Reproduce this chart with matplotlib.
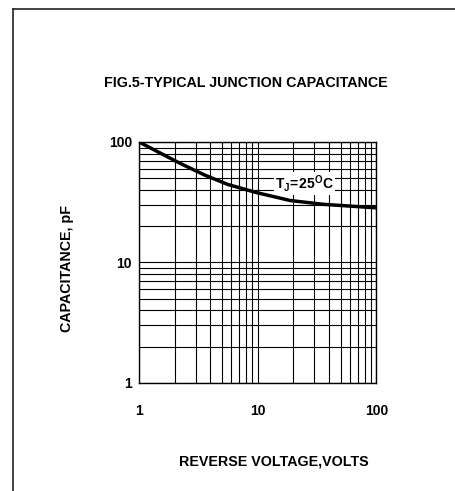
import matplotlib
matplotlib.use("Agg")
from matplotlib import pyplot as plt
from matplotlib.lines import Line2D
from matplotlib.ticker import LogLocator, NullFormatter, FixedFormatter, FixedLocator

plt.rcParams['font.family'] = ['Liberation Sans', 'DejaVu Sans']
plt.rcParams['font.weight'] = 'bold'
plt.rcParams['mathtext.fontset'] = 'custom'
plt.rcParams['mathtext.rm'] = 'Liberation Sans:bold'
plt.rcParams['mathtext.bf'] = 'Liberation Sans:bold'

# curve
voltage = [1.0, 2.23, 3.6, 5.6, 9.8, 18.7, 35.6, 100.0]
capacitance = [100.0, 66.3, 53.0, 44.4, 38.0, 32.7, 30.4, 28.4]

tick_vals = [1, 10, 100]
tick_labels = ['1', '10', '100']

title = "FIG.5-TYPICAL JUNCTION CAPACITANCE"
xlab = "REVERSE VOLTAGE,VOLTS"
ylab = "CAPACITANCE, pF"

fig = plt.figure(figsize=(4.56, 4.91), dpi=100)
ax = fig.add_axes([0.3048, 0.22, 0.5208, 0.4908])

ax.set_xscale('log')
ax.set_yscale('log')
ax.set_xlim(1, 100)
ax.set_ylim(1, 100)

ax.plot(voltage, capacitance, color='black', lw=2.5, solid_capstyle='butt', zorder=4)

# full log grid
ax.xaxis.set_major_locator(FixedLocator(tick_vals))
ax.yaxis.set_major_locator(FixedLocator(tick_vals))
ax.xaxis.set_major_formatter(FixedFormatter(tick_labels))
ax.yaxis.set_major_formatter(FixedFormatter(tick_labels))
ax.xaxis.set_minor_locator(LogLocator(base=10, subs=range(2, 10)))
ax.yaxis.set_minor_locator(LogLocator(base=10, subs=range(2, 10)))
ax.xaxis.set_minor_formatter(NullFormatter())
ax.yaxis.set_minor_formatter(NullFormatter())
ax.grid(True, which='both', color='black', lw=0.8)
ax.tick_params(which='both', length=0)
ax.tick_params(axis='x', pad=15, labelsize=10)
ax.tick_params(axis='y', pad=5, labelsize=10)
for s in ax.spines.values():
    s.set_linewidth(1.0)
    s.set_color('black')

ax.text(14, 45.5, r'$\mathrm{T_J\!=\!25^{O}C}$', fontsize=10, ha='left', va='center',
        bbox=dict(facecolor='white', edgecolor='none', pad=0.8), zorder=3)

fig.text(0.539, 0.831, title, ha='center', va='center', fontsize=10.3, fontweight='bold')
fig.text(0.6, 0.061, xlab, ha='center', va='center', fontsize=10.3, fontweight='bold')
fig.text(0.147, 0.454, ylab, ha='center', va='center', rotation=90, fontsize=10.3, fontweight='bold')

# page border (top and left edges)
fig.add_artist(Line2D([0.0278, 1.0], [0.9807, 0.9807], color='#222222', lw=1.2))
fig.add_artist(Line2D([0.0278, 0.0278], [0.0, 0.9807], color='#222222', lw=1.2))

fig.savefig('out.png', dpi=100, facecolor='white')
